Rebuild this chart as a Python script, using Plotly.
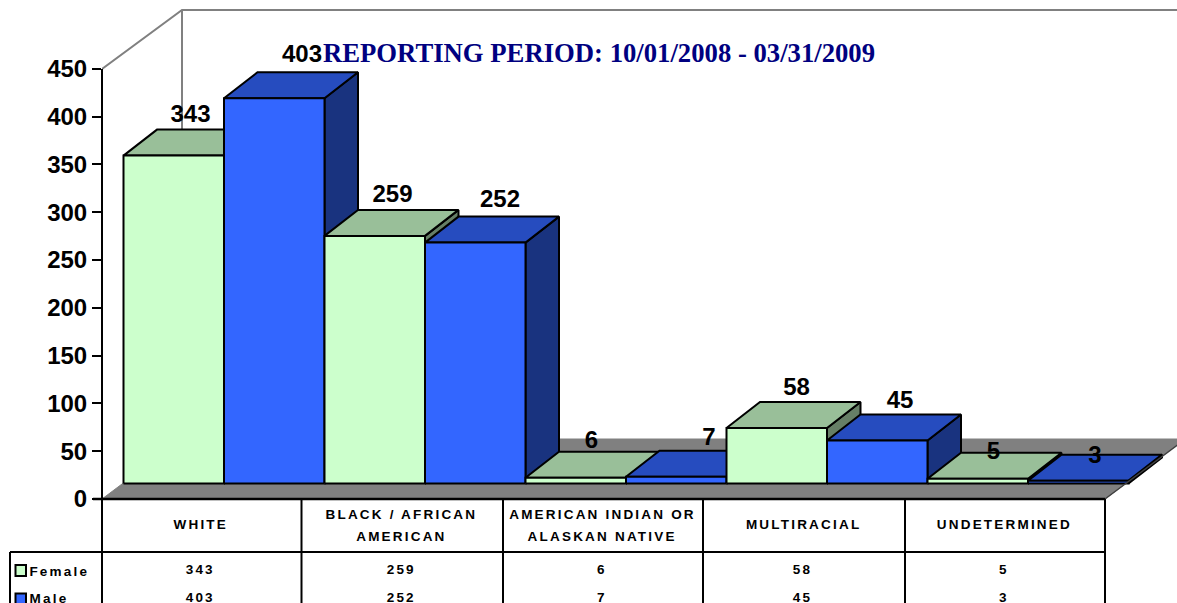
import plotly.graph_objects as go

categories = ["WHITE", "BLACK / AFRICAN\nAMERICAN", "AMERICAN INDIAN OR\nALASKAN NATIVE", "MULTIRACIAL", "UNDETERMINED"]
female = [343, 259, 6, 58, 5]
male = [403, 252, 7, 45, 3]
y_ticks = [0, 50, 100, 150, 200, 250, 300, 350, 400, 450]
title = "REPORTING PERIOD: 10/01/2008 - 03/31/2009"

# layout constants (pixels of the 1177x603 page)
W, H = 1177, 603
AX_L, Y0_PX, PX_PER_UNIT = 102, 499, 0.956
X_UNIT = 201.0
BAR_L = 123.5
BAR_W = 0.5
DEPTH_X, DEPTH_Y = 33.5 / X_UNIT, 26 / PX_PER_UNIT
FLOOR_Y = 15.5 / PX_PER_UNIT
COLS = [102, 301.5, 503, 703, 905, 1105]

# label nudges relative to the centre of the bar's top (px)
LABEL_NUDGE_F = [(0, 14), (1, 14), (-1, 10), (3, 13.5), (-1, 0)]
LABEL_NUDGE_M = [(11, 16.5), (8, 15.5), (16, 12), (6, 12), (0, -2)]

STYLE = {
    "Female": dict(front="#CCFFCC", top="#99BF99", side="#667F66"),
    "Male": dict(front="#3366FF", top="#264CBF", side="#19337F"),
}


def xpaper(px):
    return (px - AX_L) / (W - AX_L)


def ypaper(py):
    return 1 - py / H


xr = [(AX_L - BAR_L) / X_UNIT, (W - BAR_L) / X_UNIT]
yr = [(Y0_PX - H) / PX_PER_UNIT, Y0_PX / PX_PER_UNIT]


def px2x(px):
    return (px - BAR_L) / X_UNIT


def py2y(py):
    return (Y0_PX - py) / PX_PER_UNIT


fig = go.Figure()

# floor
fig.add_trace(go.Scatter(
    x=[px2x(102), px2x(1105), px2x(1185), px2x(182), px2x(102)],
    y=[py2y(499), py2y(499), py2y(439), py2y(439), py2y(499)],
    mode="lines", fill="toself", fillcolor="#808080",
    line=dict(color="#808080", width=1), hoverinfo="skip", showlegend=False,
))
# back wall outlines
fig.add_trace(go.Scatter(
    x=[px2x(102), px2x(182), px2x(1177.5), None, px2x(182), px2x(182)],
    y=[py2y(69), py2y(10), py2y(10), None, py2y(10), py2y(439)],
    mode="lines", line=dict(color="#808080", width=2), hoverinfo="skip", showlegend=False,
))


def poly(xs, ys, color, name):
    fig.add_trace(go.Scatter(
        x=xs + [xs[0]], y=ys + [ys[0]], mode="lines", fill="toself", fillcolor=color,
        line=dict(color="black", width=2), name=name, hoverinfo="skip", showlegend=False,
    ))


label_x, label_y, label_t = [], [], []
for i in range(len(categories)):
    for s, (name, vals, nudges) in enumerate([("Female", female, LABEL_NUDGE_F), ("Male", male, LABEL_NUDGE_M)]):
        v = vals[i]
        nudge = nudges[i]
        st = STYLE[name]
        x0 = i + s * BAR_W
        x1 = x0 + BAR_W
        b = FLOOR_Y
        t = FLOOR_Y + v
        poly([x1, x1 + DEPTH_X, x1 + DEPTH_X, x1], [b, b + DEPTH_Y, t + DEPTH_Y, t], st["side"], name)
        poly([x0, x0 + DEPTH_X, x1 + DEPTH_X, x1], [t, t + DEPTH_Y, t + DEPTH_Y, t], st["top"], name)
        poly([x0, x1, x1, x0], [b, b, t, t], st["front"], name)
        label_x.append((x0 + x1) / 2 + DEPTH_X / 2 + nudge[0] / X_UNIT)
        label_y.append(t + DEPTH_Y + nudge[1] / PX_PER_UNIT)
        label_t.append(str(v))

fig.add_trace(go.Scatter(
    x=label_x, y=label_y, text=label_t, mode="text", textposition="middle center",
    textfont=dict(family="Liberation Sans", size=24, color="black", weight="bold"),
    hoverinfo="skip", showlegend=False, cliponaxis=False,
))

shapes = []


def line(x0, y0, x1, y1, color="black", width=2):
    shapes.append(dict(type="line", xref="paper", yref="paper",
                       x0=xpaper(x0), x1=xpaper(x1), y0=ypaper(y0), y1=ypaper(y1),
                       line=dict(color=color, width=width)))


# axis, floor slant, table grid
line(102, 69, 102, 603)
line(1105, 499, 1177.5, 445, color="#404040", width=1.5)
line(93, 499, 1105, 499, width=2.5)
line(10, 552, 1105, 552)
line(10, 552, 10, 603)
for c in COLS:
    line(c, 499, c, 603)

annotations = []


def label(px, py, text, anchor="center", size=13.5):
    annotations.append(dict(
        xref="paper", yref="paper", x=xpaper(px), y=ypaper(py), text=text, showarrow=False,
        xanchor=anchor, yanchor="middle",
        font=dict(family="Liberation Sans", size=size, color="black", weight="bold"),
    ))


for i, cat in enumerate(categories):
    cx = (COLS[i] + COLS[i + 1]) / 2 - 1
    parts = cat.split("\n")
    if len(parts) == 1:
        label(cx, 524, parts[0])
    else:
        label(cx, 514, parts[0])
        label(cx, 536, parts[1])
    label(cx, 569.5, str(female[i]))
    label(cx, 597, str(male[i]))

for name, cx, py, sy in [("Female", 59, 571.5, 570.5), ("Male", 49, 598, 599)]:
    label(cx, py, name)
    shapes.append(dict(type="rect", xref="paper", yref="paper",
                       x0=xpaper(15.5), x1=xpaper(26), y0=ypaper(sy - 5.5), y1=ypaper(sy + 5.5),
                       fillcolor=STYLE[name]["front"], line=dict(color="black", width=2)))

fig.update_layout(
    width=W, height=H, autosize=False,
    margin=dict(l=AX_L, r=0, t=0, b=0, pad=0),
    paper_bgcolor="white", plot_bgcolor="white", showlegend=False,
    title=dict(text=title, x=599 / W, y=1 - 53 / H, xanchor="center", yanchor="middle",
               font=dict(family="Liberation Serif", size=26.7, color="#000080", weight="bold")),
    xaxis=dict(range=xr, visible=False, fixedrange=True),
    yaxis=dict(range=yr, tickmode="array", tickvals=y_ticks, ticktext=[str(v) for v in y_ticks],
               ticks="outside", ticklen=9, tickwidth=2, tickcolor="black",
               showgrid=False, zeroline=False, showline=False, fixedrange=True,
               tickfont=dict(family="Liberation Sans", size=24, color="black", weight="bold")),
    shapes=shapes, annotations=annotations,
)

post = """
document.body.style.margin='0';
document.documentElement.style.overflow='hidden';
var s=document.createElement('style');
s.textContent='.annotation-text{letter-spacing:2.2px}';
document.head.appendChild(s);
"""
fig.write_html("out.html", post_script=post, config={"displayModeBar": False})
